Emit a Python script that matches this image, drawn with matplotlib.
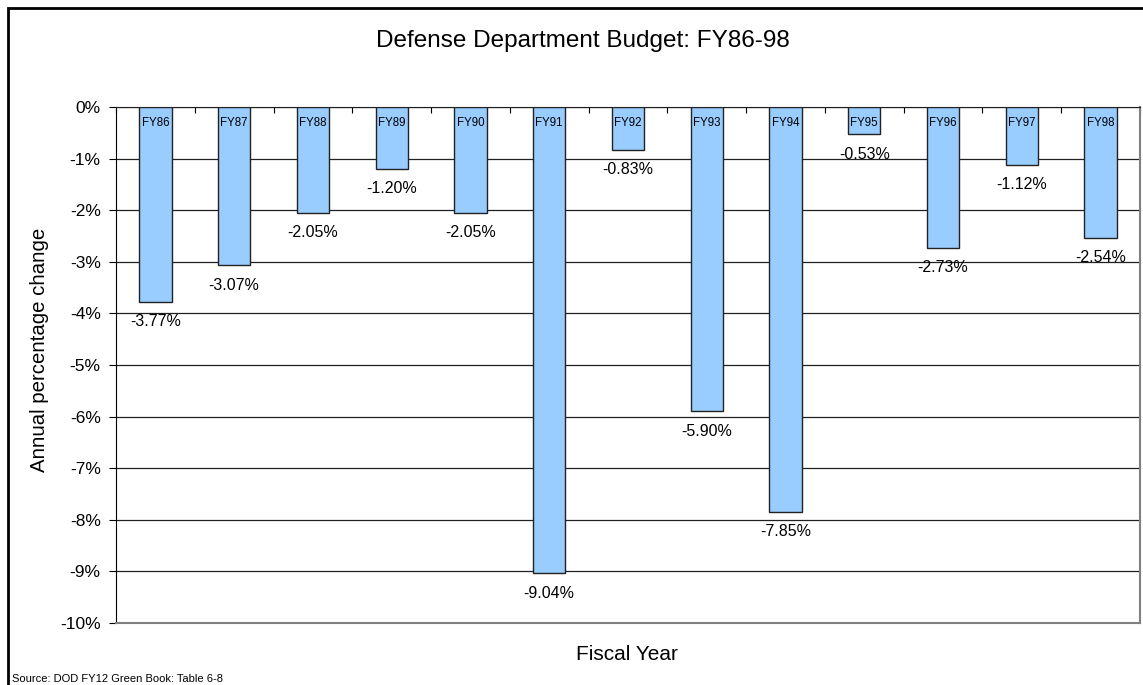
import matplotlib.pyplot as plt
import matplotlib.patches as mpatches
from matplotlib.transforms import Bbox, TransformedBbox
import numpy as np

years = ["FY86", "FY87", "FY88", "FY89", "FY90", "FY91", "FY92",
         "FY93", "FY94", "FY95", "FY96", "FY97", "FY98"]
pct_change = [-3.77, -3.07, -2.05, -1.20, -2.05, -9.04, -0.83,
              -5.90, -7.85, -0.53, -2.73, -1.12, -2.54]
y_ticks = list(range(0, -11, -1))

plt.rcParams['font.family'] = ['Liberation Sans', 'DejaVu Sans']

W, H = 1143, 685
fig = plt.figure(figsize=(W / 100, H / 100), dpi=100)
ax = fig.add_axes([116 / W, 1 - 623 / H, (1140 - 116) / W, (623 - 107) / H])

x = np.arange(len(years))
ax.bar(x, pct_change, width=0.41, color="#99CCFF", edgecolor="#222222", linewidth=1.0, zorder=3)

# category names inside the bars, values below
for xi, name, v in zip(x, years, pct_change):
    ax.text(xi, -0.2, name, ha="center", va="top", fontsize=8.3, zorder=4)
    ax.text(xi, v - 0.24, "%.2f%%" % v, ha="center", va="top", fontsize=11.5, zorder=4)

ax.set_xlim(-0.5, len(years) - 0.5)
ax.set_ylim(-10, 0)
ax.set_yticks(y_ticks)
ax.set_yticklabels(["%d%%" % t for t in y_ticks], fontsize=12.5)
ax.yaxis.grid(True, color="#202020", linewidth=0.9, zorder=0)
ax.tick_params(axis="y", direction="out", length=5, pad=6)

# x axis sits at the top (0%), ticks between categories
ax.xaxis.tick_top()
ax.set_xticks(np.arange(len(years) + 1) - 0.5)
ax.set_xticklabels([])
ax.tick_params(axis="x", direction="in", length=4, top=True, bottom=False)

ax.spines["top"].set_color("#202020")
ax.spines["left"].set_color("black")
ax.spines["right"].set_color("#808080")
ax.spines["bottom"].set_color("#808080")
ax.spines["right"].set_linewidth(1.5)
ax.spines["bottom"].set_linewidth(1.5)

fig.text(627 / W, 1 - 655 / H, "Fiscal Year", ha="center", va="center", fontsize=15)
ylab = fig.text(40 / W, 1 - 350 / H, "Annual percentage change", ha="center", va="center",
                rotation=90, fontsize=14.7)
# the label is cut off at the top, as in the original chart
ylab.set_clip_box(TransformedBbox(Bbox([[0, 0], [0.5, 1 - 226 / H]]), fig.transFigure))
ylab.set_clip_on(True)

fig.text(583 / W, 1 - 41 / H, "Defense Department Budget: FY86-98",
         ha="center", va="center", fontsize=17.5)
fig.text(12 / W, 1 - 679 / H, "Source: DOD FY12 Green Book: Table 6-8",
         ha="left", va="center", fontsize=8)

# outer chart border (left and top edges visible)
border = mpatches.Rectangle((7.5 / W, -0.5), 2, 1.5 - 7.5 / H, transform=fig.transFigure,
                            fill=False, edgecolor="black", linewidth=2)
fig.patches.append(border)

fig.savefig("out.png", dpi=100)
